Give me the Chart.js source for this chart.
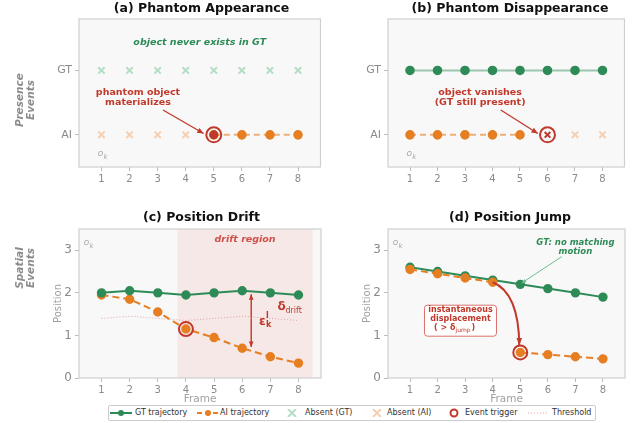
<!DOCTYPE html>
<html>
<head>
<meta charset="utf-8">
<script src="https://cdn.jsdelivr.net/npm/chart.js@4.4.1/dist/chart.umd.min.js"></script>
<style>
  body { margin: 0; background: #fff; font-family: "DejaVu Sans", sans-serif; }
  #wrap { position: relative; width: 634px; height: 423px; overflow: hidden; }
  canvas { position: absolute; }
  .title { position: absolute; font-weight: bold; font-size: 12.5px; color: #111; text-align: center; white-space: nowrap; }
  #legend { position: absolute; left: 108px; top: 405px; width: 488px; height: 16px; border: 1px solid #ccc; border-radius: 2px;
    background: #fff; box-sizing: border-box; font-size: 8px; color: #333; }
  #legend .t { position: absolute; top: 2px; white-space: nowrap; line-height: 10px; }
  #legend svg { position: absolute; top: 3px; }
</style>
</head>
<body>
<div id="wrap">
  <canvas id="pa" width="330" height="200" style="left:0;top:0"></canvas>
  <canvas id="pb" width="304" height="200" style="left:330px;top:0"></canvas>
  <canvas id="pc" width="330" height="203" style="left:0;top:200px"></canvas>
  <canvas id="pd" width="304" height="203" style="left:330px;top:200px"></canvas>
  <div class="title" style="left:79px;width:245px;top:0">(a) Phantom Appearance</div>
  <div class="title" style="left:388px;width:244px;top:0">(b) Phantom Disappearance</div>
  <div class="title" style="left:79px;width:245px;top:209px">(c) Position Drift</div>
  <div class="title" style="left:388px;width:244px;top:209px">(d) Position Jump</div>
  <div id="legend">
    <svg style="left:1px" width="22" height="8"><line x1="0" y1="4" x2="22" y2="4" stroke="#2e8b57" stroke-width="2"/><circle cx="11" cy="4" r="3" fill="#2e8b57"/></svg>
    <span class="t" style="left:26px">GT trajectory</span>
    <svg style="left:88px" width="22" height="8"><line x1="0" y1="4" x2="22" y2="4" stroke="#e67e22" stroke-width="2" stroke-dasharray="5,3"/><circle cx="11" cy="4" r="3" fill="#e67e22"/></svg>
    <span class="t" style="left:111px">AI trajectory</span>
    <svg style="left:178px" width="10" height="8"><path d="M1 0 L9 8 M9 0 L1 8" stroke="#b5dcc4" stroke-width="2"/></svg>
    <span class="t" style="left:196px">Absent (GT)</span>
    <svg style="left:263px" width="10" height="8"><path d="M1 0 L9 8 M9 0 L1 8" stroke="#f6cfb0" stroke-width="2"/></svg>
    <span class="t" style="left:278px">Absent (AI)</span>
    <svg style="left:340px;top:2px" width="10" height="10"><circle cx="5" cy="5" r="3.5" fill="none" stroke="#c0392b" stroke-width="2"/></svg>
    <span class="t" style="left:356px">Event trigger</span>
    <svg style="left:419px" width="20" height="8"><line x1="0" y1="4" x2="20" y2="4" stroke="#e8a0a0" stroke-width="1" stroke-dasharray="1,2"/></svg>
    <span class="t" style="left:443px">Threshold</span>
  </div>
</div>
<script>
// ---- data ----
const frames = [1, 2, 3, 4, 5, 6, 7, 8];

// (a) phantom appearance
const appearGtAbsent = [1, 2, 3, 4, 5, 6, 7, 8];
const appearAiAbsent = [1, 2, 3, 4];
const appearAiPresent = [5, 6, 7, 8];
const appearEvent = [5];

// (b) phantom disappearance
const vanishGtPresent = [1, 2, 3, 4, 5, 6, 7, 8];
const vanishAiPresent = [1, 2, 3, 4, 5];
const vanishAiAbsent = [7, 8];
const vanishEvent = [6];

// (c) position drift
const driftGt = [2.0, 2.05, 2.0, 1.95, 2.0, 2.05, 2.0, 1.95];
const driftAi = [1.95, 1.85, 1.55, 1.15, 0.95, 0.7, 0.5, 0.35];
const driftThreshold = [1.4, 1.45, 1.4, 1.35, 1.4, 1.45, 1.4, 1.35];
const driftEvent = 4;
const driftRegion = [3.7, 8.5];

// (d) position jump
const jumpGt = [2.6, 2.5, 2.4, 2.3, 2.2, 2.1, 2.0, 1.9];
const jumpAi = [2.55, 2.45, 2.35, 2.25, 0.6, 0.55, 0.5, 0.45];
const jumpEvent = 5;

const presenceLabels = { 0: 'AI', 1: 'GT' };
const positionTicks = [0, 1, 2, 3];

// ---- colours ----
const GREEN = '#2e8b57', ORANGE = '#e67e22', RED = '#c0392b';
const GREEN_LIGHT = '#b5dcc4', ORANGE_LIGHT = '#f6cfb0';
const FONT = '"DejaVu Sans", sans-serif';
const TICK = '#8a8a8a';

const atRow = (xs, y) => xs.map(x => ({ x: x, y: y }));
const series = ys => ys.map((y, i) => ({ x: frames[i], y: y }));

function xScale(sizeH) {
  return {
    type: 'linear', min: 0.2, max: 8.8,
    afterBuildTicks: s => { s.ticks = frames.map(v => ({ value: v })); },
    afterFit: s => { s.height = sizeH; },
    grid: { drawOnChartArea: false, tickLength: 4, color: '#bbb' },
    border: { display: false },
    ticks: { color: TICK, font: { family: FONT, size: 10 }, padding: 2 }
  };
}
function yPresence(w) {
  return {
    type: 'linear', min: -0.5, max: 1.8,
    afterBuildTicks: s => { s.ticks = [{ value: 0 }, { value: 1 }]; },
    afterFit: s => { s.width = w; },
    grid: { drawOnChartArea: false, tickLength: 4, color: '#bbb' },
    border: { display: false },
    ticks: { color: TICK, font: { family: FONT, size: 11 }, padding: 3, callback: v => presenceLabels[v] }
  };
}
function yPosition(w) {
  return {
    type: 'linear', min: 0, max: 3.5,
    afterBuildTicks: s => { s.ticks = positionTicks.map(v => ({ value: v })); },
    afterFit: s => { s.width = w; },
    grid: { drawOnChartArea: false, tickLength: 4, color: '#bbb' },
    border: { display: false },
    ticks: { color: TICK, font: { family: FONT, size: 12 }, padding: 3 }
  };
}

function px(c, v) { return c.scales.x.getPixelForValue(v); }
function py(c, v) { return c.scales.y.getPixelForValue(v); }

function arrow(ctx, x1, y1, x2, y2, color, lw, head) {
  ctx.save();
  ctx.strokeStyle = color; ctx.fillStyle = color; ctx.lineWidth = lw;
  ctx.beginPath(); ctx.moveTo(x1, y1); ctx.lineTo(x2, y2); ctx.stroke();
  const a = Math.atan2(y2 - y1, x2 - x1);
  ctx.beginPath();
  ctx.moveTo(x2, y2);
  ctx.lineTo(x2 - head * Math.cos(a - 0.4), y2 - head * Math.sin(a - 0.4));
  ctx.lineTo(x2 - head * Math.cos(a + 0.4), y2 - head * Math.sin(a + 0.4));
  ctx.closePath(); ctx.fill();
  ctx.restore();
}

function text(ctx, s, x, y, font, color, align) {
  ctx.font = font; ctx.fillStyle = color;
  ctx.textAlign = align || 'center'; ctx.textBaseline = 'middle';
  ctx.fillText(s, x, y);
}

function sideLabel(ctx, l1, l2, cy) {
  ctx.save();
  ctx.font = 'italic bold 10.5px ' + FONT; ctx.fillStyle = '#8c8c8c';
  ctx.textAlign = 'center'; ctx.textBaseline = 'middle';
  ctx.translate(20, cy); ctx.rotate(-Math.PI / 2);
  ctx.fillText(l1, 0, 0);
  ctx.fillText(l2, 0, 11);
  ctx.restore();
}

function axisTitles(c, yLabelX) {
  const ctx = c.ctx, a = c.chartArea;
  text(ctx, 'Frame', (a.left + a.right) / 2, 199, '10.5px ' + FONT, '#a0a0a0');
  ctx.save();
  ctx.translate(yLabelX, (a.top + a.bottom) / 2); ctx.rotate(-Math.PI / 2);
  text(ctx, 'Position', 0, 0, '10px ' + FONT, '#a0a0a0');
  ctx.restore();
}

function panelPlugin(extraBefore, extraAfter) {
  return {
    id: 'panel',
    beforeDraw(c) {
      const a = c.chartArea, ctx = c.ctx;
      ctx.save();
      ctx.fillStyle = '#f8f8f8';
      ctx.fillRect(a.left, a.top, a.width, a.height);
      if (extraBefore) extraBefore(c);
      ctx.restore();
    },
    afterDraw(c) {
      const a = c.chartArea, ctx = c.ctx;
      ctx.save();
      ctx.strokeStyle = '#cfcfcf'; ctx.lineWidth = 1.2;
      ctx.strokeRect(a.left, a.top, a.width, a.height);
      if (extraAfter) extraAfter(c);
      ctx.restore();
    }
  };
}

const common = (layoutPad, scales) => ({
  responsive: false, animation: false,
  layout: { padding: layoutPad },
  scales: scales,
  plugins: { legend: { display: false }, tooltip: { enabled: false } }
});

// ---- (a) ----
new Chart(document.getElementById('pa'), {
  type: 'line',
  data: { datasets: [
    { data: atRow(appearEvent, 0), showLine: false, pointRadius: 7.5, pointBorderWidth: 2, pointBorderColor: RED, pointBackgroundColor: 'rgba(0,0,0,0)', order: 0 },
    { data: atRow(appearEvent, 0), showLine: false, pointRadius: 4.5, pointBorderWidth: 0, pointBackgroundColor: RED, order: 1 },
    { data: atRow(appearAiPresent, 0), borderColor: 'rgba(230,126,34,0.6)', borderWidth: 2, borderDash: [6, 4],
      pointRadius: 3.8, pointBackgroundColor: ORANGE, pointBorderColor: ORANGE, order: 2 },
    { data: atRow(appearGtAbsent, 1), showLine: false, pointStyle: 'crossRot', pointRadius: 4.5, pointBorderWidth: 2, pointBorderColor: GREEN_LIGHT, order: 3 },
    { data: atRow(appearAiAbsent, 0), showLine: false, pointStyle: 'crossRot', pointRadius: 4.5, pointBorderWidth: 2, pointBorderColor: ORANGE_LIGHT, order: 3 }
  ] },
  options: common({ left: 0, right: 6, top: 19, bottom: 0 }, { x: xScale(33), y: yPresence(79) }),
  plugins: [panelPlugin(null, c => {
    const ctx = c.ctx;
    text(ctx, 'object never exists in GT', px(c, 4.5), py(c, 1.44), 'italic bold 9.5px ' + FONT, GREEN);
    text(ctx, 'phantom object', px(c, 2.3), 93, 'bold 9.5px ' + FONT, RED);
    text(ctx, 'materializes', px(c, 2.3), 103, 'bold 9.5px ' + FONT, RED);
    arrow(ctx, 163, 110, px(c, 4.64), py(c, 0.02), RED, 1.3, 7);
    text(ctx, 'o', px(c, 0.97), py(c, -0.3), 'italic 9px ' + FONT, '#aaa');
    text(ctx, 'k', px(c, 0.97) + 5, py(c, -0.3) + 3, 'italic 7px ' + FONT, '#aaa');
    sideLabel(ctx, 'Presence', 'Events', 100);
  })]
});

// ---- (b) ----
new Chart(document.getElementById('pb'), {
  type: 'line',
  data: { datasets: [
    { data: atRow(vanishEvent, 0), showLine: false, pointRadius: 7.5, pointBorderWidth: 2, pointBorderColor: RED, pointBackgroundColor: 'rgba(0,0,0,0)', order: 0 },
    { data: atRow(vanishEvent, 0), showLine: false, pointStyle: 'crossRot', pointRadius: 4, pointBorderWidth: 2, pointBorderColor: RED, order: 1 },
    { data: atRow(vanishGtPresent, 1), borderColor: 'rgba(46,139,87,0.45)', borderWidth: 2,
      pointRadius: 3.8, pointBackgroundColor: GREEN, pointBorderColor: GREEN, order: 2 },
    { data: atRow(vanishAiPresent, 0), borderColor: 'rgba(230,126,34,0.6)', borderWidth: 2, borderDash: [6, 4],
      pointRadius: 3.8, pointBackgroundColor: ORANGE, pointBorderColor: ORANGE, order: 2 },
    { data: atRow(vanishAiAbsent, 0), showLine: false, pointStyle: 'crossRot', pointRadius: 4.5, pointBorderWidth: 2, pointBorderColor: ORANGE_LIGHT, order: 3 }
  ] },
  options: common({ left: 0, right: 2, top: 19, bottom: 0 }, { x: xScale(33), y: yPresence(58) }),
  plugins: [panelPlugin(null, c => {
    const ctx = c.ctx;
    text(ctx, 'object vanishes', px(c, 3.55), 93, 'bold 9.5px ' + FONT, RED);
    text(ctx, '(GT still present)', px(c, 3.55), 103, 'bold 9.5px ' + FONT, RED);
    arrow(ctx, px(c, 4.3), 110, px(c, 5.65), py(c, 0.02), RED, 1.3, 7);
    text(ctx, 'o', px(c, 0.97), py(c, -0.3), 'italic 9px ' + FONT, '#aaa');
    text(ctx, 'k', px(c, 0.97) + 5, py(c, -0.3) + 3, 'italic 7px ' + FONT, '#aaa');
  })]
});

// ---- (c) ----
new Chart(document.getElementById('pc'), {
  type: 'line',
  data: { datasets: [
    { data: [{ x: driftEvent, y: driftAi[driftEvent - 1] }], showLine: false, pointRadius: 7, pointBorderWidth: 2, pointBorderColor: RED, pointBackgroundColor: 'rgba(0,0,0,0)', order: 0 },
    { data: series(driftGt), borderColor: GREEN, borderWidth: 2, pointRadius: 3.7, pointBackgroundColor: GREEN, pointBorderColor: GREEN, order: 1 },
    { data: series(driftAi), borderColor: ORANGE, borderWidth: 2, borderDash: [7, 4], pointRadius: 3.7, pointBackgroundColor: ORANGE, pointBorderColor: ORANGE, order: 1 },
    { data: series(driftThreshold), borderColor: '#e8a0a0', borderWidth: 1, borderDash: [1, 2], pointRadius: 0, order: 2 }
  ] },
  options: common({ left: 0, right: 6, top: 29, bottom: 0 }, { x: xScale(25), y: yPosition(79) }),
  plugins: [panelPlugin(c => {
    const a = c.chartArea;
    c.ctx.fillStyle = '#f5e8e6';
    c.ctx.fillRect(px(c, driftRegion[0]), a.top, px(c, driftRegion[1]) - px(c, driftRegion[0]), a.height);
  }, c => {
    const ctx = c.ctx;
    text(ctx, 'drift region', px(c, 6.1), c.chartArea.top + 11, 'italic bold 9.5px ' + FONT, '#d0504a');
    const ax = px(c, 6.32);
    arrow(ctx, ax, py(c, 1.4), ax, py(c, 1.97), RED, 1.4, 6);
    arrow(ctx, ax, py(c, 1.4), ax, py(c, 0.73), RED, 1.4, 6);
    text(ctx, 'δ', px(c, 7.25), py(c, 1.67), 'bold 12px ' + FONT, RED, 'left');
    text(ctx, 'drift', px(c, 7.25) + 8, py(c, 1.67) + 4, '8px ' + FONT, RED, 'left');
    text(ctx, 'ε', px(c, 6.6), py(c, 1.33), 'bold 12px ' + FONT, RED, 'left');
    text(ctx, 'k', px(c, 6.6) + 7, py(c, 1.33) + 4, 'bold 8px ' + FONT, RED, 'left');
    text(ctx, 'l', px(c, 6.6) + 7, py(c, 1.33) - 5, 'bold 8px ' + FONT, RED, 'left');
    text(ctx, 'o', px(c, 0.47), c.chartArea.top + 14, 'italic 9px ' + FONT, '#aaa');
    text(ctx, 'k', px(c, 0.47) + 5, c.chartArea.top + 17, 'italic 7px ' + FONT, '#aaa');
    sideLabel(ctx, 'Spatial', 'Events', 68);
    axisTitles(c, 58);
  })]
});

// ---- (d) ----
new Chart(document.getElementById('pd'), {
  type: 'line',
  data: { datasets: [
    { data: [{ x: jumpEvent, y: jumpAi[jumpEvent - 1] }], showLine: false, pointRadius: 7, pointBorderWidth: 2, pointBorderColor: RED, pointBackgroundColor: 'rgba(0,0,0,0)', order: 0 },
    { data: series(jumpGt), borderColor: GREEN, borderWidth: 2, pointRadius: 3.7, pointBackgroundColor: GREEN, pointBorderColor: GREEN, order: 2 },
    { data: series(jumpAi), borderColor: ORANGE, borderWidth: 2, borderDash: [7, 4], pointRadius: 3.7, pointBackgroundColor: ORANGE, pointBorderColor: ORANGE, order: 1,
      segment: { borderColor: s => s.p0.parsed.x === jumpEvent - 1 ? 'rgba(0,0,0,0)' : undefined } }
  ] },
  options: common({ left: 0, right: 2, top: 29, bottom: 0 }, { x: xScale(25), y: yPosition(58) }),
  plugins: [panelPlugin(null, c => {
    const ctx = c.ctx;
    // curved jump arrow
    const x1 = px(c, 4), y1 = py(c, jumpAi[3]), x2 = px(c, 5) - 1, y2 = py(c, jumpAi[4]) - 7;
    const cx = px(c, 4.95), cy = py(c, 2.0);
    ctx.strokeStyle = RED; ctx.lineWidth = 2;
    ctx.beginPath(); ctx.moveTo(x1, y1); ctx.quadraticCurveTo(cx, cy, x2, y2); ctx.stroke();
    const ang = Math.atan2(y2 - cy, x2 - cx);
    ctx.fillStyle = RED; ctx.beginPath();
    ctx.moveTo(x2, y2);
    ctx.lineTo(x2 - 8 * Math.cos(ang - 0.35), y2 - 8 * Math.sin(ang - 0.35));
    ctx.lineTo(x2 - 8 * Math.cos(ang + 0.35), y2 - 8 * Math.sin(ang + 0.35));
    ctx.closePath(); ctx.fill();
    // text box
    const bx = px(c, 2.83);
    ctx.fillStyle = 'rgba(255,255,255,0.9)'; ctx.strokeStyle = '#d9716a'; ctx.lineWidth = 1;
    ctx.beginPath(); ctx.roundRect(bx - 36, py(c, 1.71), 72, 31, 3); ctx.fill(); ctx.stroke();
    text(ctx, 'instantaneous', bx, py(c, 1.6), 'bold 8px ' + FONT, RED);
    text(ctx, 'displacement', bx, py(c, 1.39), 'bold 8px ' + FONT, RED);
    text(ctx, '( > δ', bx - 5, py(c, 1.18), 'bold 8px ' + FONT, RED, 'right');
    text(ctx, 'jump', bx - 5, py(c, 1.18) + 3, '6px ' + FONT, RED, 'left');
    text(ctx, ')', bx + 11, py(c, 1.18), 'bold 8px ' + FONT, RED, 'left');
    // GT annotation
    text(ctx, 'GT: no matching', px(c, 7.0), py(c, 3.17), 'italic bold 8.5px ' + FONT, GREEN);
    text(ctx, 'motion', px(c, 7.0), py(c, 2.96), 'italic bold 8.5px ' + FONT, GREEN);
    arrow(ctx, px(c, 6.5), py(c, 2.85), px(c, 5.05), py(c, 2.23), '#6fbf8f', 1, 5);
    text(ctx, 'o', px(c, 0.47), c.chartArea.top + 14, 'italic 9px ' + FONT, '#aaa');
    text(ctx, 'k', px(c, 0.47) + 5, c.chartArea.top + 17, 'italic 7px ' + FONT, '#aaa');
    axisTitles(c, 37);
  })]
});
</script>
</body>
</html>
